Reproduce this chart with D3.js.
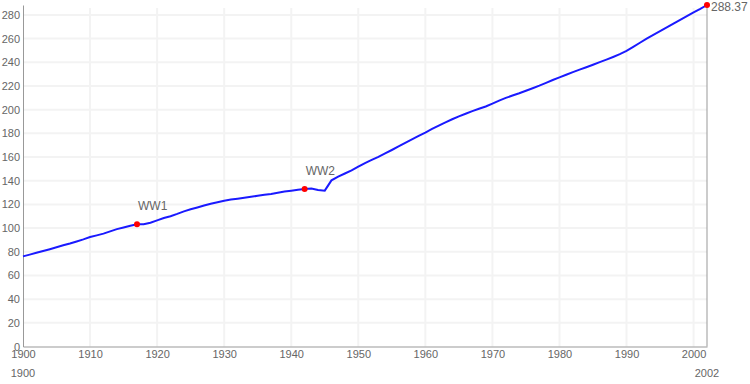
<!DOCTYPE html>
<html>
<head>
<meta charset="utf-8">
<script src="https://cdn.jsdelivr.net/npm/d3@7"></script>
<style>
  body { margin: 0; background: #fff; }
  text { font-family: Arial, "Liberation Sans", sans-serif; fill: #666; }
</style>
</head>
<body>
<div id="chart"></div>
<script>
// US population, millions
const years = d3.range(1900, 2003);
const population = [
  76.09, 77.58, 79.16, 80.63, 82.17, 83.82, 85.45, 87.01, 88.71, 90.49,
  92.41, 93.86, 95.34, 97.23, 99.11, 100.55, 101.96, 103.27, 103.21, 104.51,
  106.46, 108.54, 110.05, 111.95, 114.11, 115.83, 117.40, 119.04, 120.51, 121.77,
  123.08, 124.04, 124.84, 125.58, 126.37, 127.25, 128.05, 128.83, 129.83, 130.88,
  131.6, 132.4, 133.0, 133.4, 132.2, 131.6, 140.3, 143.5, 146.09, 148.67,
  151.87, 154.88, 157.55, 160.18, 163.03, 165.93, 168.90, 171.98, 174.88, 177.83,
  180.67, 183.69, 186.54, 189.24, 191.89, 194.30, 196.56, 198.71, 200.71, 202.68,
  205.05, 207.66, 209.90, 211.91, 213.85, 215.97, 218.04, 220.24, 222.59, 225.06,
  227.22, 229.47, 231.66, 233.79, 235.82, 237.92, 240.13, 242.29, 244.50, 246.82,
  249.62, 252.98, 256.51, 259.92, 263.13, 266.28, 269.39, 272.65, 275.85, 279.04,
  282.16, 285.1, 288.37
];
const eventLabels = ["WW1", "WW2"];
const eventYears = [1917, 1942];
const yTicks = d3.range(0, 281, 20);
const xTicks = d3.range(1900, 2001, 10);

const width = 750, height = 384;
const margin = {top: 5, right: 43, bottom: 37.5, left: 23};

const data = years.map((y, i) => ({year: y, value: population[i]}));
const valueOf = yr => population[years.indexOf(yr)];

const svg = d3.select("#chart").append("svg")
  .attr("width", width)
  .attr("height", height);

const x = d3.scaleLinear()
  .domain([years[0], years[years.length - 1]])
  .range([margin.left, width - margin.right]);

const y = d3.scaleLinear()
  .domain([0, d3.max(population)])
  .range([height - margin.bottom, margin.top]);

const plotBottom = y(0), plotTop = y(d3.max(population));

// grid
svg.append("g")
  .selectAll("line")
  .data(yTicks.filter(d => d > 0))
  .enter().append("line")
  .attr("x1", x.range()[0])
  .attr("x2", x.range()[1])
  .attr("y1", d => y(d))
  .attr("y2", d => y(d))
  .attr("stroke", "#f3f3f3")
  .attr("stroke-width", 2);

svg.append("g")
  .selectAll("line")
  .data(xTicks.filter(d => d > 1900))
  .enter().append("line")
  .attr("x1", d => x(d))
  .attr("x2", d => x(d))
  .attr("y1", plotTop + 3)
  .attr("y2", plotBottom)
  .attr("stroke", "#f3f3f3")
  .attr("stroke-width", 2);

// axes
const yAxis = svg.append("g")
  .attr("transform", `translate(${margin.left},0)`)
  .call(d3.axisLeft(y).tickValues(yTicks).tickSize(0).tickPadding(3));
yAxis.select(".domain").attr("stroke", "#999");
yAxis.selectAll("text").attr("font-size", 11).attr("fill", "#666");

const xAxis = svg.append("g")
  .attr("transform", `translate(0,${plotBottom})`)
  .call(d3.axisBottom(x).tickValues(xTicks).tickFormat(d3.format("d")).tickSize(0).tickPadding(4));
xAxis.select(".domain").attr("stroke", "#999");
xAxis.selectAll("text").attr("font-size", 11).attr("fill", "#666");

// right edge line
svg.append("line")
  .attr("x1", x(2002)).attr("x2", x(2002))
  .attr("y1", plotTop).attr("y2", plotBottom)
  .attr("stroke", "#999");

// range labels
svg.selectAll(".range")
  .data([years[0], years[years.length - 1]])
  .enter().append("text")
  .attr("class", "range")
  .attr("x", d => x(d))
  .attr("y", plotBottom + 30)
  .attr("text-anchor", "middle")
  .attr("font-size", 11)
  .text(d => d);

// line
svg.append("path")
  .datum(data)
  .attr("fill", "none")
  .attr("stroke", "#1a1aff")
  .attr("stroke-width", 2)
  .attr("d", d3.line().x(d => x(d.year)).y(d => y(d.value)));

// event markers
eventYears.forEach((yr, i) => {
  svg.append("circle")
    .attr("cx", x(yr))
    .attr("cy", y(valueOf(yr)))
    .attr("r", 3)
    .attr("fill", "#f00");
  svg.append("text")
    .attr("x", x(yr) + 1)
    .attr("y", y(valueOf(yr)) - 14)
    .attr("font-size", 12)
    .text(eventLabels[i]);
});

// last value
const last = data[data.length - 1];
svg.append("circle")
  .attr("cx", x(last.year))
  .attr("cy", y(last.value))
  .attr("r", 3)
  .attr("fill", "#f00");
svg.append("text")
  .attr("x", x(last.year) + 4)
  .attr("y", y(last.value) + 6)
  .attr("font-size", 12)
  .text(last.value.toFixed(2));
</script>
</body>
</html>
